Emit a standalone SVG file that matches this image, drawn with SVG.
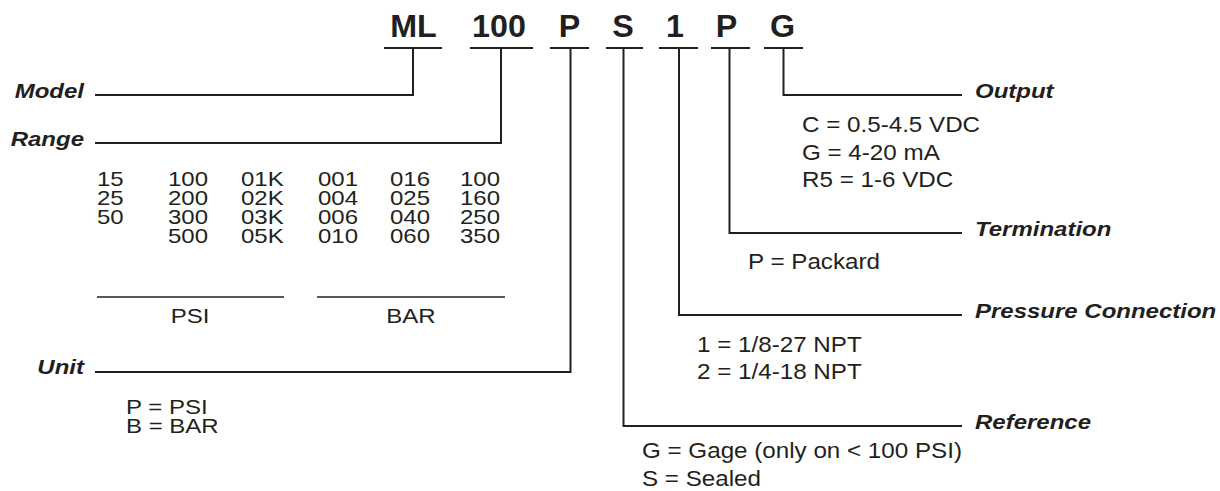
<svg xmlns="http://www.w3.org/2000/svg" width="1220" height="491" viewBox="0 0 1220 491">
<style>
  .code{font-family:"Liberation Sans",Arial,sans-serif;font-weight:bold;font-size:31px;fill:#231f20;text-anchor:middle}
  .lbl{font-family:"Liberation Sans",Arial,sans-serif;font-weight:bold;font-style:italic;font-size:20px;fill:#231f20}
  .t{font-family:"Liberation Sans",Arial,sans-serif;font-size:20px;fill:#231f20}
  .r{font-family:"Liberation Sans",Arial,sans-serif;font-size:22px;fill:#231f20}
  .ul{stroke:#231f20;stroke-width:2.2;fill:none}
  .thin{stroke:#231f20;stroke-width:1.3;fill:none}
  .conn{stroke:#231f20;stroke-width:2;fill:none}
</style>
<rect width="1220" height="491" fill="#ffffff"/>

<g id="codes">
  <g id="code-ML"><text class="code" transform="translate(413.5,37) scale(1.04,1)">ML</text><line class="ul" x1="384" y1="48" x2="442" y2="48"/></g>
  <g id="code-100"><text class="code" transform="translate(499,37) scale(1.04,1)">100</text><line class="ul" x1="470" y1="48" x2="533" y2="48"/></g>
  <g id="code-P"><text class="code" transform="translate(569.5,37) scale(1.04,1)">P</text><line class="ul" x1="550" y1="48" x2="589" y2="48"/></g>
  <g id="code-S"><text class="code" transform="translate(623,37) scale(1.04,1)">S</text><line class="ul" x1="606" y1="48" x2="643" y2="48"/></g>
  <g id="code-1"><text class="code" transform="translate(675,37) scale(1.04,1)">1</text><line class="ul" x1="659" y1="48" x2="698" y2="48"/></g>
  <g id="code-P2"><text class="code" transform="translate(726.5,37) scale(1.04,1)">P</text><line class="ul" x1="711" y1="48" x2="750" y2="48"/></g>
  <g id="code-G"><text class="code" transform="translate(782.5,37) scale(1.04,1)">G</text><line class="ul" x1="764" y1="48" x2="803" y2="48"/></g>
</g>

<g id="connectors">
  <path class="conn" d="M413,48 V95 H95"/>
  <path class="conn" d="M501,48 V143 H95"/>
  <path class="conn" d="M570.5,48 V372 H95"/>
  <path class="conn" d="M623.5,48 V426 H962"/>
  <path class="conn" d="M679,48 V315 H962"/>
  <path class="conn" d="M729.5,48 V233 H962"/>
  <path class="conn" d="M783.5,48 V95 H962"/>
</g>

<g id="model">
  <text class="lbl" text-anchor="end" transform="translate(84,97.5) scale(1.2,1)">Model</text>
</g>

<g id="range">
  <text class="lbl" text-anchor="end" transform="translate(84,145.5) scale(1.2,1)">Range</text>
  <g id="range-table">
    <text class="t" transform="translate(97,186) scale(1.2,1)">15</text>
    <text class="t" transform="translate(97,205) scale(1.2,1)">25</text>
    <text class="t" transform="translate(97,224) scale(1.2,1)">50</text>
    <text class="t" transform="translate(168,186) scale(1.2,1)">100</text>
    <text class="t" transform="translate(168,205) scale(1.2,1)">200</text>
    <text class="t" transform="translate(168,224) scale(1.2,1)">300</text>
    <text class="t" transform="translate(168,243) scale(1.2,1)">500</text>
    <text class="t" transform="translate(241,186) scale(1.2,1)">01K</text>
    <text class="t" transform="translate(241,205) scale(1.2,1)">02K</text>
    <text class="t" transform="translate(241,224) scale(1.2,1)">03K</text>
    <text class="t" transform="translate(241,243) scale(1.2,1)">05K</text>
    <text class="t" transform="translate(318,186) scale(1.2,1)">001</text>
    <text class="t" transform="translate(318,205) scale(1.2,1)">004</text>
    <text class="t" transform="translate(318,224) scale(1.2,1)">006</text>
    <text class="t" transform="translate(318,243) scale(1.2,1)">010</text>
    <text class="t" transform="translate(390,186) scale(1.2,1)">016</text>
    <text class="t" transform="translate(390,205) scale(1.2,1)">025</text>
    <text class="t" transform="translate(390,224) scale(1.2,1)">040</text>
    <text class="t" transform="translate(390,243) scale(1.2,1)">060</text>
    <text class="t" transform="translate(460,186) scale(1.2,1)">100</text>
    <text class="t" transform="translate(460,205) scale(1.2,1)">160</text>
    <text class="t" transform="translate(460,224) scale(1.2,1)">250</text>
    <text class="t" transform="translate(460,243) scale(1.2,1)">350</text>
    <line class="thin" x1="97" y1="297" x2="284" y2="297"/>
    <line class="thin" x1="317" y1="297" x2="505" y2="297"/>
    <text class="t" text-anchor="middle" transform="translate(190,323) scale(1.2,1)">PSI</text>
    <text class="t" text-anchor="middle" transform="translate(411,323) scale(1.2,1)">BAR</text>
  </g>
</g>

<g id="unit">
  <text class="lbl" text-anchor="end" transform="translate(84,374) scale(1.2,1)">Unit</text>
  <text class="t" transform="translate(126,414) scale(1.2,1)">P = PSI</text>
  <text class="t" transform="translate(126,433) scale(1.2,1)">B = BAR</text>
</g>

<g id="output">
  <text class="lbl" transform="translate(975,97.5) scale(1.2,1)">Output</text>
  <text class="r" transform="translate(802,132) scale(1.1,1)">C = 0.5-4.5 VDC</text>
  <text class="r" transform="translate(802,159.5) scale(1.1,1)">G = 4-20 mA</text>
  <text class="r" transform="translate(802,187) scale(1.1,1)">R5 = 1-6 VDC</text>
</g>

<g id="termination">
  <text class="lbl" transform="translate(975,235.5) scale(1.2,1)">Termination</text>
  <text class="r" transform="translate(748,269) scale(1.1,1)">P = Packard</text>
</g>

<g id="pressure-connection">
  <text class="lbl" transform="translate(975,317.5) scale(1.2,1)">Pressure Connection</text>
  <text class="r" transform="translate(697,352) scale(1.1,1)">1 = 1/8-27 NPT</text>
  <text class="r" transform="translate(697,378.5) scale(1.1,1)">2 = 1/4-18 NPT</text>
</g>

<g id="reference">
  <text class="lbl" transform="translate(975,428.5) scale(1.2,1)">Reference</text>
  <text class="r" transform="translate(642,458) scale(1.1,1)">G = Gage (only on &lt; 100 PSI)</text>
  <text class="r" transform="translate(642,486) scale(1.1,1)">S = Sealed</text>
</g>
</svg>
